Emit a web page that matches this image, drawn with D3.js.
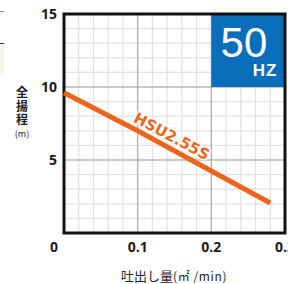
<!DOCTYPE html>
<html>
<head>
<meta charset="utf-8">
<script src="https://cdn.jsdelivr.net/npm/d3@7"></script>
<style>
body { margin: 0; background: #fff; }
svg { display: block; font-family: "Liberation Sans", Arial, sans-serif; }
</style>
</head>
<body>
<div id="chart"></div>
<script>
// data
const flow = [0, 0.1, 0.2, 0.28]
const head = [9.6, 7.0, 4.25, 2.05]
const xTicks = [0, 0.1, 0.2, 0.3]
const yTicks = [0, 5, 10, 15]
const seriesName = "HSU2.55S"

const W = 288, H = 284
const margin = {top: 14, right: 3, bottom: 51, left: 64}
const width = 285 - margin.left
const height = 233 - margin.top

const svg = d3.select("#chart").append("svg")
    .attr("width", W).attr("height", H)

// remnants of neighbouring element at far left
svg.append("rect").attr("x", 0).attr("y", 43).attr("width", 4).attr("height", 32).attr("fill", "#f5f7ec")
svg.append("line").attr("x1", 0).attr("x2", 4).attr("y1", 11.5).attr("y2", 11.5).attr("stroke", "#888")
svg.append("line").attr("x1", 0).attr("x2", 4).attr("y1", 43.5).attr("y2", 43.5).attr("stroke", "#333")

const g = svg.append("g").attr("transform", `translate(${margin.left},${margin.top})`)

const x = d3.scaleLinear().domain([0, 0.3]).range([0, width])
const y = d3.scaleLinear().domain([0, 15]).range([height, 0])

// minor grid
g.append("g").selectAll("line").data(d3.range(1, 15).map(i => i * 0.02))
    .join("line")
    .attr("x1", d => x(d)).attr("x2", d => x(d))
    .attr("y1", 0).attr("y2", height)
    .attr("stroke", "#e2e2e2").attr("stroke-width", 1.2)
g.append("g").selectAll("line").data(d3.range(1, 15))
    .join("line")
    .attr("y1", d => y(d)).attr("y2", d => y(d))
    .attr("x1", 0).attr("x2", width)
    .attr("stroke", "#e2e2e2").attr("stroke-width", 1.2)

// major grid
g.append("g").selectAll("line").data(xTicks.slice(1, 3))
    .join("line")
    .attr("x1", d => x(d)).attr("x2", d => x(d))
    .attr("y1", 0).attr("y2", height)
    .attr("stroke", "#a0a0a0").attr("stroke-width", 1)
g.append("g").selectAll("line").data(yTicks.slice(1, 3))
    .join("line")
    .attr("y1", d => y(d)).attr("y2", d => y(d))
    .attr("x1", 0).attr("x2", width)
    .attr("stroke", "#a0a0a0").attr("stroke-width", 1)

// frequency box
g.append("rect")
    .attr("x", x(0.2)).attr("y", y(15))
    .attr("width", x(0.3) - x(0.2)).attr("height", y(10) - y(15))
    .attr("fill", "#0a6fba")
g.append("text").attr("x", x(0.2) + 56).attr("y", 43)
    .attr("text-anchor", "end").attr("fill", "#fff")
    .attr("font-size", 42).text("50")
g.append("text").attr("x", x(0.2) + 66).attr("y", 62)
    .attr("text-anchor", "end").attr("fill", "#fff")
    .attr("font-size", 17).attr("font-weight", "bold").attr("letter-spacing", 1).text("HZ")

// frame
g.append("rect").attr("x", 0).attr("y", 0).attr("width", width).attr("height", height)
    .attr("fill", "none").attr("stroke", "#111").attr("stroke-width", 3)

// curve
g.append("path")
    .datum(flow.map((f, i) => [f, head[i]]))
    .attr("fill", "none").attr("stroke", "#ec651d").attr("stroke-width", 5)
    .attr("d", d3.line().x(d => x(d[0])).y(d => y(d[1])))

const ang = Math.atan2(y(head[3]) - y(head[0]), x(flow[3]) - x(flow[0])) * 180 / Math.PI
g.append("text")
    .attr("transform", `translate(${x(0.143)},${y(5.9) - 6}) rotate(${ang})`)
    .attr("text-anchor", "middle")
    .attr("fill", "#ec651d").attr("stroke", "#fff").attr("stroke-width", 3).attr("paint-order", "stroke")
    .attr("font-size", 15).attr("font-weight", "bold").attr("font-family", "'DejaVu Sans', sans-serif")
    .text(seriesName)

// tick labels
svg.append("g").selectAll("text").data(yTicks.slice(1))
    .join("text")
    .attr("x", 57).attr("y", d => margin.top + y(d) + 5)
    .attr("text-anchor", "end").attr("font-size", 14).attr("font-weight", "bold")
    .attr("font-family", "'Open Sans', sans-serif").attr("fill", "#1a1a1a")
    .text(d => d)
svg.append("g").selectAll("text").data(xTicks)
    .join("text")
    .attr("x", d => margin.left + x(d) + (d === 0 ? -10 : 0)).attr("y", 252)
    .attr("text-anchor", "middle").attr("font-size", 14).attr("font-weight", "bold")
    .attr("font-family", "'Open Sans', sans-serif").attr("fill", "#1a1a1a")
    .text(d => d)

// axis titles
;["全", "揚", "程"].forEach((c, i) => {
    svg.append("text").attr("x", 22).attr("y", 97 + i * 13.5).attr("text-anchor", "middle")
        .attr("font-family", "'Noto Sans CJK JP', sans-serif").attr("fill", "#222")
        .attr("font-size", 12).attr("font-weight", "bold").text(c)
})
svg.append("text").attr("x", 22).attr("y", 137).attr("text-anchor", "middle")
    .attr("font-family", "'Noto Sans CJK JP', sans-serif").attr("font-size", 9).attr("fill", "#222").text("(m)")

const xt = svg.append("text").attr("x", 121).attr("y", 281)
    .attr("font-family", "'Noto Sans CJK JP', sans-serif").attr("fill", "#222")
xt.append("tspan").attr("font-size", 13).text("吐出し量")
xt.append("tspan").attr("font-size", 12).attr("letter-spacing", 0.6).text("(㎡ /min)")
</script>
</body>
</html>
